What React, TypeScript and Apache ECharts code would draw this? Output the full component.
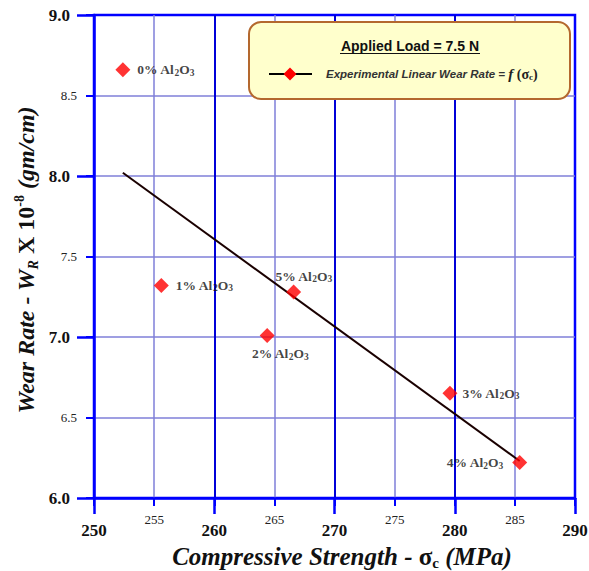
import React, { useEffect, useRef } from "react";
import * as echarts from "echarts";

// Compressive strength (MPa) and wear rate (x 10^-8 gm/cm) per alumina content
const aluminaPct = [0, 1, 2, 3, 4, 5];
const compStrength = [252.4, 255.6, 264.4, 279.6, 285.4, 266.6];
const wearRate = [8.66, 7.32, 7.01, 6.65, 6.22, 7.28];

// Linear fit endpoints
const fitX = [252.4, 285.4];
const fitY = [8.02, 6.23];

const xMin = 250;
const xMax = 290;
const yMin = 6;
const yMax = 9;

const SERIF = "'Liberation Serif', 'Times New Roman', serif";
const SANS = "'Liberation Sans', Arial, sans-serif";
const BLUE = "#0000ff";
const GRID_DARK = "#0000d8";
const GRID_LIGHT = "#7f7fd8";

// label placement for each point (same order as the data arrays)
const labelPlacement = [
  { position: "right", distance: 7 },
  { position: "right", distance: 7 },
  { position: "bottom", distance: 3, offset: [13, 0] },
  { position: "right", distance: 5 },
  { position: "left", distance: 9 },
  { position: "top", distance: 0, offset: [10, 0] },
];

export default function App() {
  const ref = useRef<HTMLDivElement>(null);

  useEffect(() => {
    if (!ref.current) return;
    const chart = echarts.init(ref.current, undefined, { renderer: "svg" });

    const pointLabelRich = {
      t: { fontFamily: SERIF, fontWeight: "bold", fontSize: 13.5, color: "#111", lineHeight: 16 },
      s: { fontFamily: SERIF, fontWeight: "bold", fontSize: 9.5, color: "#111", lineHeight: 11, verticalAlign: "bottom" },
    };

    chart.setOption({
      animation: false,
      backgroundColor: "#ffffff",
      grid: {
        left: 94,
        right: 14,
        top: 15,
        bottom: 73,
        show: true,
        borderColor: BLUE,
        borderWidth: 2.5,
        backgroundColor: "transparent",
        outerBoundsMode: "none",
        containLabel: false,
      },
      xAxis: [
        {
          // major ticks and dark grid lines
          type: "value",
          position: "bottom",
          min: xMin,
          max: xMax,
          interval: 10,
          z: 3,
          axisLine: { show: true, onZero: false, lineStyle: { color: BLUE, width: 2.5 } },
          axisTick: { show: true, length: 16, lineStyle: { color: BLUE, width: 2.5 } },
          axisLabel: { show: false },
          splitLine: { show: true, showMinLine: false, showMaxLine: false, lineStyle: { color: GRID_DARK, width: 2 } },
        },
        {
          // intermediate ticks, light grid lines and all x labels
          type: "value",
          position: "bottom",
          offset: 0,
          min: xMin,
          max: xMax,
          interval: 5,
          z: 1,
          axisLine: { show: false, onZero: false },
          axisTick: { show: true, length: 8, lineStyle: { color: BLUE, width: 2 } },
          axisLabel: {
            margin: 14,
            // major values get a short empty line above them so they sit lower
            formatter: (v: number) => (v % 10 === 0 ? `{e| }\n{maj|${v}}` : `{min|${v}}`),
            rich: {
              e: { fontSize: 8, lineHeight: 9 },
              maj: { fontFamily: SERIF, fontWeight: "bold", fontSize: 17, color: "#111", lineHeight: 18 },
              min: { fontFamily: SERIF, fontSize: 13, color: "#222", lineHeight: 14 },
            },
          },
          splitLine: { show: true, showMinLine: false, showMaxLine: false, lineStyle: { color: GRID_LIGHT, width: 1.5 } },
        },
      ],
      yAxis: [
        {
          type: "value",
          position: "left",
          min: yMin,
          max: yMax,
          interval: 1,
          z: 3,
          axisLine: { show: true, onZero: false, lineStyle: { color: BLUE, width: 2.5 } },
          axisTick: { show: true, length: 17, lineStyle: { color: BLUE, width: 2.5 } },
          axisLabel: {
            margin: 24,
            fontFamily: SERIF,
            fontWeight: "bold",
            fontSize: 17,
            color: "#111",
            formatter: (v: number) => v.toFixed(1),
          },
          splitLine: { show: false },
        },
        {
          type: "value",
          position: "left",
          offset: 0,
          min: yMin,
          max: yMax,
          interval: 0.5,
          z: 1,
          axisLine: { show: false, onZero: false },
          axisTick: { show: true, length: 8, lineStyle: { color: BLUE, width: 2 } },
          axisLabel: {
            margin: 17,
            fontFamily: SERIF,
            fontSize: 13,
            color: "#222",
            formatter: (v: number) => (Math.abs(v - Math.round(v)) < 1e-6 ? "" : v.toFixed(1)),
          },
          splitLine: { show: true, showMinLine: false, showMaxLine: false, lineStyle: { color: GRID_LIGHT, width: 1.5 } },
        },
      ],
      series: [
        {
          name: "fit",
          type: "line",
          xAxisIndex: 0,
          yAxisIndex: 0,
          data: fitX.map((x, i) => [x, fitY[i]]),
          showSymbol: false,
          symbol: "none",
          lineStyle: { color: "#1a0000", width: 2 },
          z: 3,
        },
        {
          name: "Experimental Linear Wear Rate",
          type: "scatter",
          xAxisIndex: 0,
          yAxisIndex: 0,
          symbol: "diamond",
          symbolSize: 15,
          itemStyle: { color: "#ff0000" },
          z: 4,
          label: {
            show: true,
            formatter: (p: any) => `{t|${aluminaPct[p.dataIndex]}% Al}{s|2}{t|O}{s|3}`,
            rich: pointLabelRich,
          },
          data: compStrength.map((x, i) => ({
            value: [x, wearRate[i]],
            label: labelPlacement[i],
          })),
        },
      ],
      graphic: [
        // y-axis title
        {
          type: "text",
          x: 26,
          y: 260,
          rotation: Math.PI / 2,
          style: {
            text: "{a|Wear Rate - W}{sub|R}{b| X 10}{sup|-8}{a| (gm/cm)}",
            align: "center",
            verticalAlign: "middle",
            rich: {
              a: { fontFamily: SERIF, fontStyle: "italic", fontWeight: "bold", fontSize: 24, lineHeight: 28, fill: "#111" },
              b: { fontFamily: SERIF, fontWeight: "bold", fontSize: 24, lineHeight: 28, fill: "#111" },
              sub: { fontFamily: SERIF, fontStyle: "italic", fontWeight: "bold", fontSize: 14, lineHeight: 14, verticalAlign: "bottom", fill: "#111" },
              sup: { fontFamily: SERIF, fontWeight: "bold", fontSize: 14, lineHeight: 14, verticalAlign: "top", fill: "#111" },
            },
          },
        },
        // x-axis title
        {
          type: "text",
          x: 342,
          y: 556,
          style: {
            text: "{a|Compressive Strength - }{b|σ}{sub|c}{a| (MPa)}",
            align: "center",
            verticalAlign: "middle",
            rich: {
              a: { fontFamily: SERIF, fontStyle: "italic", fontWeight: "bold", fontSize: 25, lineHeight: 28, fill: "#111" },
              b: { fontFamily: SERIF, fontWeight: "bold", fontSize: 25, lineHeight: 28, fill: "#111" },
              sub: { fontFamily: SERIF, fontWeight: "bold", fontSize: 15, lineHeight: 15, verticalAlign: "bottom", fill: "#111" },
            },
          },
        },
        // legend box
        {
          type: "rect",
          shape: { x: 249, y: 22, width: 321, height: 77, r: 12 },
          style: { fill: "#ffffcc", stroke: "#b4682e", lineWidth: 2 },
          z: 10,
        },
        {
          type: "text",
          x: 410,
          y: 46,
          z: 11,
          style: {
            text: "Applied Load = 7.5 N",
            align: "center",
            verticalAlign: "middle",
            font: `bold 14px ${SANS}`,
            fill: "#111",
          },
        },
        {
          type: "line",
          z: 11,
          shape: { x1: 340, y1: 53.5, x2: 480, y2: 53.5 },
          style: { stroke: "#111", lineWidth: 1.2 },
        },
        {
          type: "line",
          z: 11,
          shape: { x1: 269, y1: 74, x2: 312, y2: 74 },
          style: { stroke: "#000", lineWidth: 2 },
        },
        {
          type: "polygon",
          z: 12,
          shape: { points: [[290, 67.5], [296.5, 74], [290, 80.5], [283.5, 74]] },
          style: { fill: "#ff0000" },
        },
        {
          type: "text",
          x: 326,
          y: 74,
          z: 11,
          style: {
            text: "{a|Experimental Linear Wear Rate = }{f|f}{b| (σ}{sub|c}{b|)}",
            align: "left",
            verticalAlign: "middle",
            rich: {
              a: { fontFamily: SANS, fontStyle: "italic", fontWeight: "bold", fontSize: 11.5, lineHeight: 15, fill: "#333" },
              f: { fontFamily: SERIF, fontStyle: "italic", fontWeight: "bold", fontSize: 15, lineHeight: 15, fill: "#222" },
              b: { fontFamily: SERIF, fontWeight: "bold", fontSize: 14, lineHeight: 15, fill: "#222" },
              sub: { fontFamily: SERIF, fontWeight: "bold", fontSize: 9, lineHeight: 10, verticalAlign: "bottom", fill: "#222" },
            },
          },
        },
      ],
    });

    return () => chart.dispose();
  }, []);

  return (
    <div
      ref={ref}
      style={{ position: "fixed", left: 0, top: 0, width: 589, height: 571, background: "#fff" }}
    />
  );
}
